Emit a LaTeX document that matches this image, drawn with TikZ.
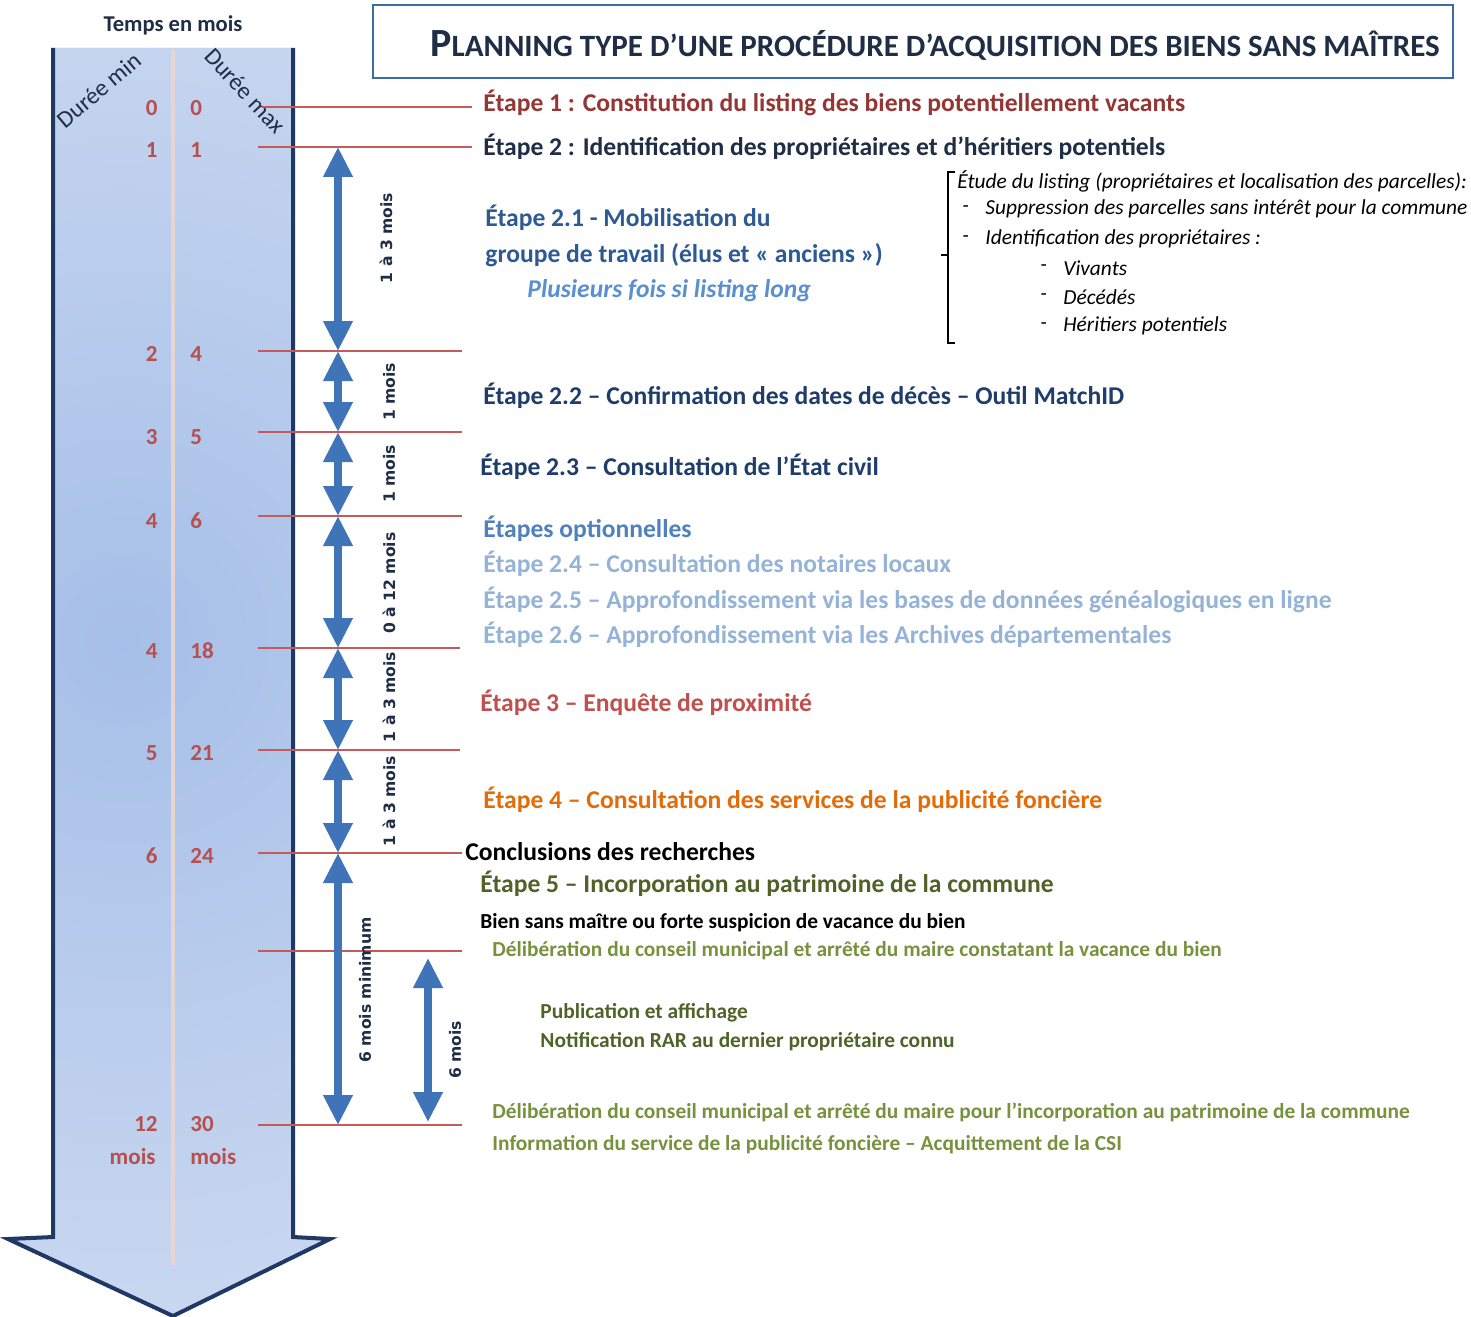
\documentclass[tikz,border=0pt]{standalone}
\usepackage{fontspec}
\setmainfont{Carlito}
\newfontfamily\spanfont{DejaVu Sans}
\usetikzlibrary{arrows.meta,calc}

\definecolor{navy}{HTML}{1F2D45}
\definecolor{deepblue}{HTML}{1F3D6B}
\definecolor{midblue}{HTML}{2E5A94}
\definecolor{optblue}{HTML}{4F81BD}
\definecolor{paleblue}{HTML}{95B3D7}
\definecolor{italblue}{HTML}{5A8FD0}
\definecolor{darkred}{HTML}{943634}
\definecolor{stepred}{HTML}{C0504D}
\definecolor{numred}{HTML}{B5504E}
\definecolor{tickred}{HTML}{C55A5A}
\definecolor{steporange}{HTML}{E36C09}
\definecolor{olivedark}{HTML}{4F6228}
\definecolor{olive}{HTML}{76923C}
\definecolor{arrowblue}{HTML}{3F74B9}
\definecolor{shaftlight}{HTML}{D5E0F3}
\definecolor{shaftdark}{HTML}{A6BFE8}
\definecolor{shaftline}{HTML}{1F3864}
\definecolor{titleframe}{HTML}{3C6CA8}
\definecolor{midline}{HTML}{E8D5D2}

\tikzset{
  tick/.style={draw=tickred, line width=0.8pt},
  span/.style={draw=arrowblue, line width=3.6pt, >={Triangle[width=14pt,length=15pt]}, <->},
  spanlbl/.style={rotate=90, inner sep=0pt, text=navy, font=\spanfont\fontsize{7.8}{9}\selectfont\bfseries},
  num/.style={inner sep=0pt, text=numred, font=\fontsize{11.5}{13}\selectfont\bfseries},
  steplbl/.style={anchor=west, inner sep=0pt, font=\fontsize{12.8}{15}\selectfont\bfseries},
  sublbl/.style={anchor=west, inner sep=0pt, font=\fontsize{10.7}{12}\selectfont\bfseries},
  notelbl/.style={anchor=west, inner sep=0pt, font=\fontsize{10.7}{12}\selectfont\itshape},
}

\begin{document}
\begin{tikzpicture}[x=0.5pt,y=-0.5pt]
    \useasboundingbox[fill=white] (0,0) rectangle (1471,1316);

    % time arrow
    \begin{scope}
        \clip (53,48) -- (53,1237) -- (8,1239) -- (173,1316) -- (330,1239) -- (293,1237) -- (293,48) -- cycle;
        \fill[shaftlight] (0,40) rectangle (340,1316);
        \shade[inner color=shaftdark, outer color=shaftlight] (125,640) circle (900);
    \end{scope}
    \draw[midline, line width=2pt] (173,50) -- (173,1265);
    \draw[shaftline, line width=2pt, line join=miter] (53,48) -- (53,1237) -- (8,1239) -- (173,1316) -- (330,1239) -- (293,1237) -- (293,48);

    \node[text=navy, font=\fontsize{11.3}{13}\selectfont\bfseries] (temps) at (173,25) {Temps en mois};
    \node[text=navy, inner sep=0pt, rotate=40, font=\fontsize{12}{14}\selectfont] (dmin) at (99,90) {Durée min};
    \node[text=navy, inner sep=0pt, rotate=-47, font=\fontsize{12}{14}\selectfont] (dmax) at (245,91) {Durée max};

    \foreach \y/\a/\b in {108/0/0,150/1/1,354/2/4,437/3/5,521/4/6,651/4/18,753/5/21,856/6/24,1124/12/30}{
        \node[num, anchor=east] (min\y) at (158,\y) {\a};
        \node[num, anchor=west] (max\y) at (190,\y) {\b};
    }
    \node[num, anchor=east] (minmois) at (156,1157) {mois};
    \node[num, anchor=west] (maxmois) at (190,1157) {mois};

    % title
    \node[draw=titleframe, line width=1.2pt, anchor=north west, minimum width=540pt, minimum height=36.5pt] (frame) at (372,4) {};
    \node[anchor=west, inner sep=0pt, text=navy, font=\fontsize{15.5}{18}\selectfont\bfseries] (title) at (430,45)
        {{\fontsize{20}{20}\selectfont P}LANNING TYPE D’UNE PROCÉDURE D’ACQUISITION DES BIENS SANS MAÎTRES};

    % ticks
    \foreach \i/\y/\xs/\xe in {0/107/262/472,1/147/258/472,2/351/258/462,3/432/258/462,4/516/258/462,5/648/258/460,6/750/258/460,7/853/258/462,8/951/258/462,9/1125/258/462}{
        \coordinate (tl\i) at (\xs,\y);
        \coordinate (tr\i) at (\xe,\y);
        \draw[tick] (tl\i) -- (tr\i);
    }

    % durations
    \coordinate (ax) at (338,0);
    \coordinate (bx) at (428,0);
    \draw[span] (tl1 -| ax) -- (tl2 -| ax);
    \draw[span] (tl2 -| ax) -- (tl3 -| ax);
    \draw[span] (tl3 -| ax) -- (tl4 -| ax);
    \draw[span] (tl4 -| ax) -- (tl5 -| ax);
    \draw[span] (tl5 -| ax) -- (tl6 -| ax);
    \draw[span] (tl6 -| ax) -- (tl7 -| ax);
    \draw[span] (tl7 -| ax) -- (tl9 -| ax);
    \draw[span] ($(tl8 -| bx)+(0,7)$) -- ($(tl9 -| bx)+(0,-3)$);

    \node[spanlbl] (d1) at (386,238) {1 à 3 mois};
    \node[spanlbl] (d2) at (389,392) {1 mois};
    \node[spanlbl] (d3) at (389,474) {1 mois};
    \node[spanlbl] (d4) at (389,583) {0 à 12 mois};
    \node[spanlbl] (d5) at (389,697) {1 à 3 mois};
    \node[spanlbl] (d6) at (389,801) {1 à 3 mois};
    \node[spanlbl] (d7) at (365,990) {6 mois minimum};
    \node[spanlbl] (d8) at (455,1050) {6 mois};

    % steps
    \node[steplbl, text=darkred] (e1) at (483,103) {Étape 1 : Constitution du listing des biens potentiellement vacants};
    \node[steplbl, text=navy] (e2) at (483,147) {Étape 2 : Identification des propriétaires et d’héritiers potentiels};
    \node[steplbl, text=midblue] (e21a) at (485,218) {Étape 2.1 - Mobilisation du};
    \node[steplbl, text=midblue] (e21b) at (485,255) {groupe de travail (élus et «~anciens~»)};
    \node[steplbl, text=italblue, font=\fontsize{12.8}{15}\selectfont\bfseries\itshape] (e21c) at (527,291) {Plusieurs fois si listing long};

    \draw[black, line width=0.7pt] (955,172) -- (948,172) -- (948,343) -- (955,343);
    \draw[black, line width=0.7pt] (948,255) -- (941,255);
    \node[notelbl] (etude) at (957,181) {Étude du listing (propriétaires et localisation des parcelles):};
    \node[notelbl] (b1) at (962,209) {-};
    \node[notelbl] (suppr) at (985,209) {Suppression des parcelles sans intérêt pour la commune};
    \node[notelbl] (b2) at (962,239) {-};
    \node[notelbl] (ident) at (985,239) {Identification des propriétaires :};
    \node[notelbl] (b3) at (1040,268) {-};
    \node[notelbl] (viv) at (1063,268) {Vivants};
    \node[notelbl] (b4) at (1040,297) {-};
    \node[notelbl] (dec) at (1063,297) {Décédés};
    \node[notelbl] (b5) at (1040,326) {-};
    \node[notelbl] (her) at (1063,326) {Héritiers potentiels};

    \node[steplbl, text=deepblue] (e22) at (483,396) {Étape 2.2 – Confirmation des dates de décès – Outil MatchID};
    \node[steplbl, text=deepblue] (e23) at (480,467) {Étape 2.3 – Consultation de l’État civil};
    \node[steplbl, text=optblue] (opt) at (483,529) {Étapes optionnelles};
    \node[steplbl, text=paleblue] (e24) at (483,564) {Étape 2.4 – Consultation des notaires locaux};
    \node[steplbl, text=paleblue] (e25) at (483,600) {Étape 2.5 – Approfondissement via les bases de données généalogiques en ligne};
    \node[steplbl, text=paleblue] (e26) at (483,635) {Étape 2.6 – Approfondissement via les Archives départementales};
    \node[steplbl, text=stepred] (e3) at (480,703) {Étape 3 – Enquête de proximité};
    \node[steplbl, text=steporange] (e4) at (483,800) {Étape 4 – Consultation des services de la publicité foncière};
    \node[steplbl, text=black] (concl) at (465,852) {Conclusions des recherches};
    \node[steplbl, text=olivedark] (e5) at (480,884) {Étape 5 – Incorporation au patrimoine de la commune};

    \node[sublbl, text=black] (bsm) at (480,923) {Bien sans maître ou forte suspicion de vacance du bien};
    \node[sublbl, text=olive] (delib1) at (492,951) {Délibération du conseil municipal et arrêté du maire constatant la vacance du bien};
    \node[sublbl, text=olivedark] (pub) at (540,1013) {Publication et affichage};
    \node[sublbl, text=olivedark] (notif) at (540,1042) {Notification RAR au dernier propriétaire connu};
    \node[sublbl, text=olive] (delib2) at (492,1112) {Délibération du conseil municipal et arrêté du maire pour l’incorporation au patrimoine de la commune};
    \node[sublbl, text=olive] (info) at (492,1145) {Information du service de la publicité foncière – Acquittement de la CSI};
\end{tikzpicture}
\end{document}
